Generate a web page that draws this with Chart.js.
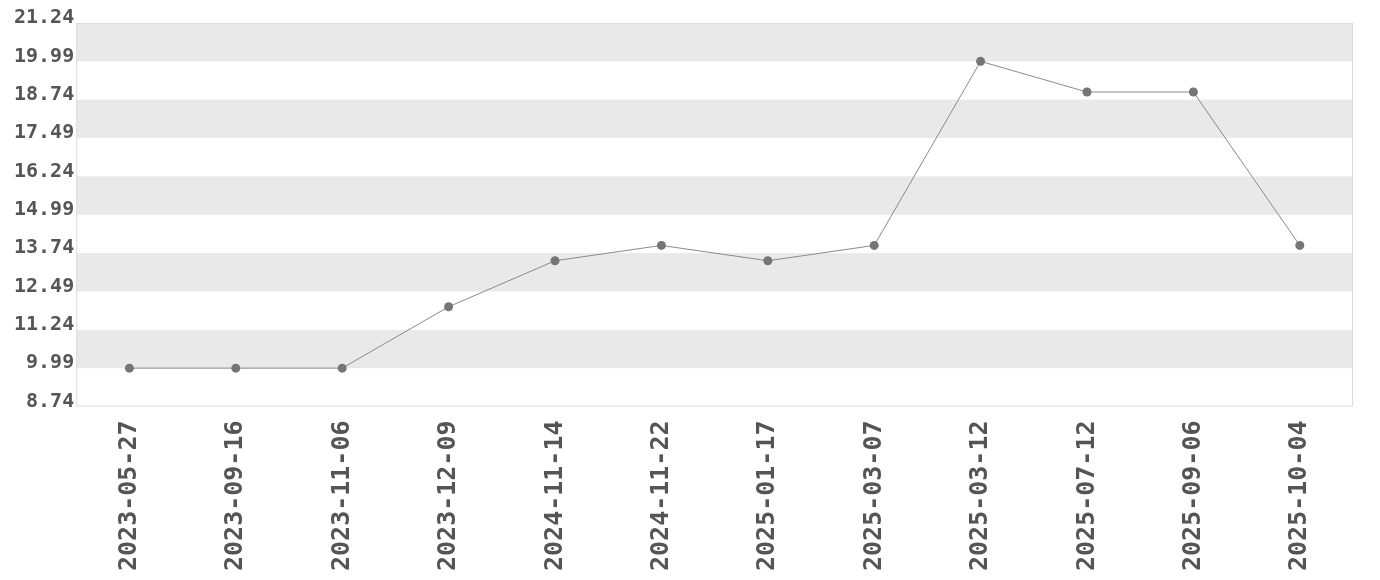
<!DOCTYPE html>
<html>
<head>
<meta charset="utf-8">
<script src="https://cdn.jsdelivr.net/npm/chart.js@4/dist/chart.umd.min.js"></script>
<style>
  html, body { margin: 0; padding: 0; background: #fff; }
  #wrap { width: 1380px; height: 580px; }
</style>
</head>
<body>
<div id="wrap"><canvas id="myChart"></canvas></div>
<script>
const dates = ["2023-05-27", "2023-09-16", "2023-11-06", "2023-12-09", "2024-11-14", "2024-11-22",
               "2025-01-17", "2025-03-07", "2025-03-12", "2025-07-12", "2025-09-06", "2025-10-04"];
const prices = [9.99, 9.99, 9.99, 11.99, 13.49, 13.99, 13.49, 13.99, 19.99, 18.99, 18.99, 13.99];
const yMin = 8.74;
const yMax = 21.24;
const yStep = 1.25;

// grey stripes between every other pair of y ticks, plus a thin frame
const bands = {
    id: 'bands',
    beforeDatasetsDraw(chart) {
        const ctx = chart.ctx;
        const area = chart.chartArea;
        const y = chart.scales.y;
        const ticks = y.ticks;
        ctx.save();
        ctx.fillStyle = '#e9e9e9';
        for (let i = ticks.length - 1; i > 0; i--) {
            if ((ticks.length - 1 - i) % 2 == 0) {
                let top = y.getPixelForValue(ticks[i].value);
                let bottom = y.getPixelForValue(ticks[i - 1].value);
                ctx.fillRect(area.left, top, area.right - area.left, bottom - top);
            }
        }
        ctx.strokeStyle = '#dcdcdc';
        ctx.lineWidth = 1;
        ctx.strokeRect(area.left + 0.5, area.top + 0.5, area.right - area.left - 1, area.bottom - area.top - 1);
        ctx.restore();
    }
};

window.onload = function () {
    var ctx = document.getElementById('myChart').getContext('2d');
    new Chart(ctx, {
        type: 'line',
        data: {
            labels: dates,
            datasets: [{
                data: prices,
                borderColor: '#8a8a8a',
                borderWidth: 1,
                pointRadius: 4.5,
                pointBackgroundColor: '#757575',
                pointBorderWidth: 0,
                fill: false,
                tension: 0
            }]
        },
        options: {
            responsive: true,
            maintainAspectRatio: false,
            animation: false,
            layout: { padding: { top: 23, right: 27, bottom: 3, left: 12 } },
            plugins: { legend: { display: false }, tooltip: { enabled: false } },
            scales: {
                x: {
                    offset: true,
                    grid: { display: false },
                    border: { display: false },
                    ticks: {
                        maxRotation: 90,
                        minRotation: 90,
                        autoSkip: false,
                        padding: 6,
                        color: '#555',
                        font: { family: 'DejaVu Sans Mono', size: 25, weight: 'bold' }
                    }
                },
                y: {
                    min: yMin,
                    max: yMax,
                    grid: { display: false, drawTicks: false },
                    border: { display: false },
                    ticks: {
                        stepSize: yStep,
                        padding: 2,
                        labelOffset: -5,
                        color: '#555',
                        font: { family: 'DejaVu Sans Mono', size: 20, weight: 'bold' },
                        callback: function (v) { return Number(v).toFixed(2); }
                    }
                }
            }
        },
        plugins: [bands]
    });
};
</script>
</body>
</html>
